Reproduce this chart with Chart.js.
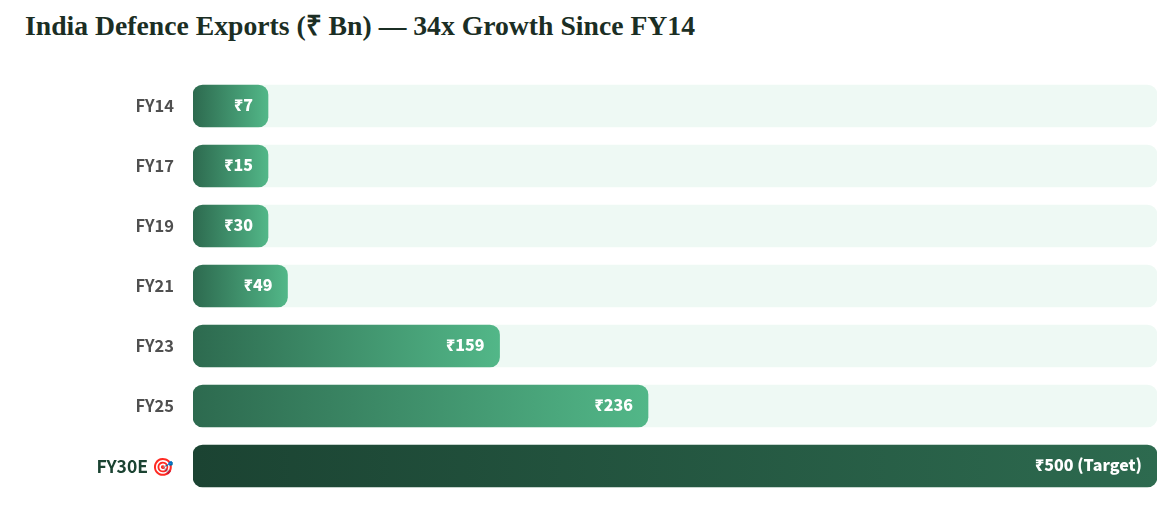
<!DOCTYPE html>
<html>
<head>
<meta charset="utf-8">
<title>India Defence Exports</title>
<script src="https://cdn.jsdelivr.net/npm/chart.js@4"></script>
<style>
    html, body { margin: 0; padding: 0; background: #fff; }
    h2 {
        margin: 0;
        padding: 8px 0 0 25px;
        box-sizing: border-box;
        height: 76px;
        font: bold 27.7px/36px "Liberation Serif", serif;
        color: #1b2e24;
    }
    .chart-box { position: relative; width: 1171px; height: 434px; }
</style>
</head>
<body>
<h2>India Defence Exports (₹ Bn) — 34x Growth Since FY14</h2>
<div class="chart-box"><canvas id="exportsChart"></canvas></div>
<script>
var categories = ['FY14', 'FY17', 'FY19', 'FY21', 'FY23', 'FY25', 'FY30E 🎯'];
var exportValues = [7, 15, 30, 49, 159, 236, 500];
var valueLabels = ['₹7', '₹15', '₹30', '₹49', '₹159', '₹236', '₹500 (Target)'];
var trackValues = [500, 500, 500, 500, 500, 500, 500];
var targetIndex = 6;

var SANS = '"Noto Sans CJK SC", "Noto Sans", sans-serif';
var MIN_BAR = 75;

// each bar has its own gradient, left edge to right edge
function barGradient(context) {
    var chart = context.chart;
    if (!chart.chartArea) return '#2d6a4f';
    var scale = chart.scales.x;
    var end = Math.max(scale.getPixelForValue(context.raw), scale.left + MIN_BAR);
    var g = chart.ctx.createLinearGradient(scale.left, 0, end, 0);
    if (context.dataIndex === targetIndex) {
        g.addColorStop(0, '#1b4332');
        g.addColorStop(1, '#2d6a4f');
    } else {
        g.addColorStop(0, '#2d6a4f');
        g.addColorStop(1, '#52b788');
    }
    return g;
}

var barLabels = {
    id: 'barLabels',
    afterDatasetsDraw: function(chart) {
        var ctx = chart.ctx;
        var bars = chart.getDatasetMeta(1).data;
        ctx.save();
        ctx.fillStyle = '#fff';
        ctx.font = '800 16px ' + SANS;
        ctx.textAlign = 'right';
        ctx.textBaseline = 'middle';
        bars.forEach(function(bar, i) {
            ctx.fillText(valueLabels[i], bar.x - 15, bar.y - 1);
        });
        ctx.restore();
    }
};

new Chart(document.getElementById('exportsChart'), {
    type: 'bar',
    data: {
        labels: categories,
        datasets: [{
            data: trackValues,
            backgroundColor: '#eef9f4',
            borderRadius: 10,
            borderSkipped: false,
            barThickness: 42,
            order: 2
        }, {
            data: exportValues,
            backgroundColor: barGradient,
            borderRadius: 10,
            borderSkipped: false,
            barThickness: 42,
            minBarLength: MIN_BAR,
            order: 1
        }]
    },
    options: {
        indexAxis: 'y',
        responsive: true,
        maintainAspectRatio: false,
        animation: false,
        layout: { padding: { top: 0, right: 14, bottom: 14, left: 0 } },
        plugins: {
            legend: { display: false },
            tooltip: { enabled: false }
        },
        scales: {
            x: {
                display: false,
                min: 0,
                max: 500
            },
            y: {
                afterFit: function(scale) {
                    scale.width = 193;
                    scale.paddingTop = 0;
                    scale.paddingBottom = 0;
                },
                grid: { display: false, drawTicks: false },
                border: { display: false },
                ticks: {
                    padding: 19,
                    color: function(c) { return c.index === targetIndex ? '#1b4332' : '#4f4f4f'; },
                    font: function(c) {
                        return c.index === targetIndex
                            ? { family: SANS, size: 17.5, weight: '700' }
                            : { family: SANS, size: 16.5, weight: '600' };
                    }
                }
            }
        },
        datasets: { bar: { grouped: false } }
    },
    plugins: [barLabels]
});
</script>
</body>
</html>
